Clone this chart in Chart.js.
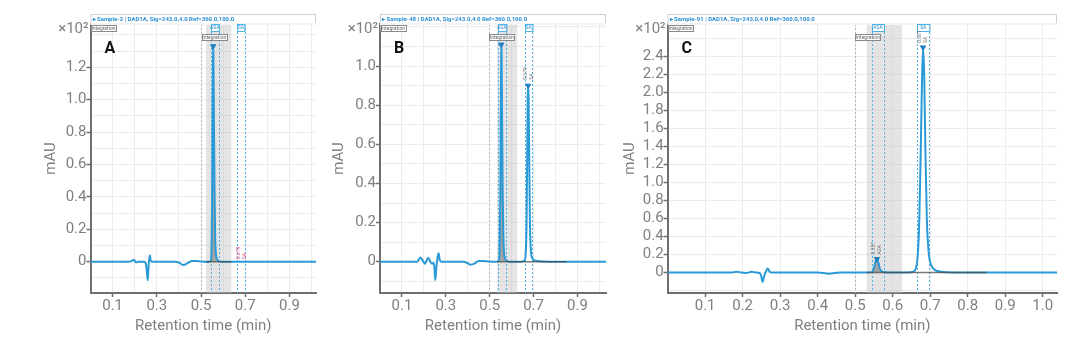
<!DOCTYPE html>
<html>
<head>
<meta charset="utf-8">
<script src="https://cdn.jsdelivr.net/npm/chart.js@4"></script>
<style>
    body { margin: 0; background: #fff; width: 1080px; height: 348px; overflow: hidden; position: relative; }
    canvas { position: absolute; top: 0; }
</style>
</head>
<body>
<canvas id="chart-a" width="295" height="348" style="left:30px"></canvas>
<canvas id="chart-b" width="285" height="348" style="left:330px"></canvas>
<canvas id="chart-c" width="450" height="348" style="left:620px"></canvas>
<script>
// ---- data ----
const timesA = [0, 0.10, 0.17, 0.185, 0.196, 0.205, 0.215, 0.24, 0.25, 0.255, 0.259, 0.263, 0.268, 0.273, 0.28, 0.32, 0.38, 0.40, 0.42, 0.44, 0.46, 0.48, 0.52, 0.535, 0.543, 0.547, 0.550, 0.552, 0.554, 0.555, 0.556, 0.558, 0.561, 0.564, 0.568, 0.575, 0.59, 0.65, 0.75, 0.85, 1.02];
const signalA = [0, 0, 0, 0.004, 0.012, -0.004, 0, 0, -0.01, -0.06, -0.115, -0.02, 0.04, 0.005, 0, 0, 0, -0.005, -0.02, -0.008, 0.004, 0.004, 0, 0, 0.005, 0.05, 0.35, 0.8, 1.2, 1.33, 1.28, 0.95, 0.45, 0.15, 0.04, 0.01, 0, 0, 0, 0, 0];

const timesB = [0, 0.10, 0.17, 0.184, 0.195, 0.206, 0.214, 0.221, 0.229, 0.237, 0.244, 0.248, 0.252, 0.257, 0.262, 0.267, 0.272, 0.28, 0.33, 0.38, 0.40, 0.412, 0.43, 0.45, 0.47, 0.50, 0.53, 0.541, 0.545, 0.548, 0.550, 0.552, 0.553, 0.554, 0.556, 0.559, 0.562, 0.566, 0.573, 0.59, 0.64, 0.658, 0.664, 0.668, 0.671, 0.673, 0.675, 0.677, 0.680, 0.683, 0.687, 0.693, 0.71, 0.80, 0.90, 1.03];
const signalB = [0, 0, 0, 0.022, 0.005, -0.01, 0.01, 0.02, 0, -0.01, -0.005, -0.03, -0.094, -0.03, 0.02, 0.043, 0.01, 0, 0, 0, -0.008, -0.015, -0.01, 0.004, 0.004, 0, 0, 0.005, 0.05, 0.3, 0.7, 1.0, 1.11, 1.08, 0.8, 0.38, 0.14, 0.04, 0.01, 0, 0, 0.005, 0.04, 0.2, 0.55, 0.82, 0.90, 0.85, 0.55, 0.22, 0.07, 0.02, 0.005, 0, 0, 0];

const timesC = [0, 0.10, 0.17, 0.184, 0.195, 0.21, 0.224, 0.235, 0.245, 0.249, 0.253, 0.258, 0.263, 0.267, 0.272, 0.28, 0.35, 0.40, 0.43, 0.46, 0.50, 0.53, 0.545, 0.55, 0.554, 0.558, 0.562, 0.566, 0.572, 0.59, 0.64, 0.655, 0.662, 0.667, 0.671, 0.675, 0.678, 0.681, 0.684, 0.687, 0.691, 0.696, 0.703, 0.712, 0.73, 0.80, 0.90, 1.04];
const signalC = [0, 0, 0, 0.01, 0, -0.005, 0.01, 0, -0.005, -0.03, -0.104, -0.03, 0.02, 0.045, 0.01, 0, 0, 0, -0.012, 0, 0, 0, 0.005, 0.05, 0.12, 0.14, 0.11, 0.04, 0.01, 0, 0, 0.01, 0.05, 0.2, 0.6, 1.4, 2.1, 2.5, 2.2, 1.4, 0.6, 0.22, 0.08, 0.03, 0.01, 0, 0, 0];

// integration windows (min)
const fillRangeA = [0.543, 0.575];
const fillRangeB = [0.541, 0.573];
const fillRangeC = [0.545, 0.572];
const baselineA = [0.523, 0.637];
const baselineB = [0.534, 0.85];
const baselineC = [0.531, 0.85];
const bandA = [0.523, 0.637];
const bandB = [0.534, 0.625];
const bandC = [0.531, 0.625];
const grayMarksA = [0.50];
const grayMarksB = [0.495];
const grayMarksC = [0.50];
const blueMarksA = [0.544, 0.58, 0.664, 0.697];
const blueMarksB = [0.537, 0.575, 0.66, 0.694];
const blueMarksC = [0.545, 0.577, 0.665, 0.698];
const peakNames = ['ASA', 'SA'];

// apex markers
const apexTimesA = [0.555];
const apexHeightsA = [1.33];
const apexTimesB = [0.553, 0.675];
const apexHeightsB = [1.11, 0.90];
const apexTimesC = [0.558, 0.681];
const apexHeightsC = [0.15, 2.5];

// axis ticks
const xTicks = [0, 0.1, 0.2, 0.3, 0.4, 0.5, 0.6, 0.7, 0.8, 0.9, 1.0];
const xLabelsAB = [0.1, 0.3, 0.5, 0.7, 0.9];
const xLabelsC = [0.1, 0.2, 0.3, 0.4, 0.5, 0.6, 0.7, 0.8, 0.9, 1.0];
const yTicksA = [-0.1, 0, 0.1, 0.2, 0.3, 0.4, 0.5, 0.6, 0.7, 0.8, 0.9, 1.0, 1.1, 1.2, 1.3, 1.4];
const yLabelsA = [0, 0.2, 0.4, 0.6, 0.8, 1.0, 1.2];
const yTicksB = [-0.1, 0, 0.1, 0.2, 0.3, 0.4, 0.5, 0.6, 0.7, 0.8, 0.9, 1.0, 1.1, 1.2];
const yLabelsB = [0, 0.2, 0.4, 0.6, 0.8, 1.0];
const yTicksC = [-0.2, 0, 0.2, 0.4, 0.6, 0.8, 1.0, 1.2, 1.4, 1.6, 1.8, 2.0, 2.2, 2.4, 2.6];
const yLabelsC = [0, 0.2, 0.4, 0.6, 0.8, 1.0, 1.2, 1.4, 1.6, 1.8, 2.0, 2.2, 2.4];

const AXIS = '#6f6f6f';
const TEXT = '#808080';
const BLUE = '#2a9ad6';
const FONT = 'Roboto, "Open Sans", sans-serif';

Chart.defaults.font.family = FONT;

function has(list, v) {
    return list.some(t => Math.abs(t - v) < 1e-6);
}

function points(times, values, range) {
    const pts = times.map((t, i) => ({ x: t, y: values[i] }));
    if (!range) return pts;
    return pts.filter(p => p.x >= range[0] - 1e-9 && p.x <= range[1] + 1e-9);
}

function vline(ctx, px, top, bottom) {
    ctx.beginPath();
    ctx.moveTo(px, top);
    ctx.lineTo(px, bottom);
    ctx.stroke();
}

function decorPlugin(p) {
    return {
        id: 'decor',
        beforeDatasetsDraw(chart) {
            const { ctx, chartArea: a, scales: { x } } = chart;
            ctx.save();
            ctx.beginPath();
            ctx.rect(a.left, a.top, a.right - a.left, a.bottom - a.top);
            ctx.clip();
            const b0 = x.getPixelForValue(p.band[0]);
            const b1 = x.getPixelForValue(p.band[1]);
            ctx.fillStyle = 'rgba(195,195,195,0.45)';
            ctx.fillRect(b0, a.top, b1 - b0, a.bottom - a.top);
            ctx.setLineDash([2, 2]);
            ctx.lineWidth = 1;
            ctx.strokeStyle = '#b5b5b5';
            p.grayMarks.forEach(v => vline(ctx, Math.round(x.getPixelForValue(v)) + 0.5, a.top, a.bottom));
            ctx.strokeStyle = '#4cb2ea';
            p.blueMarks.forEach(v => vline(ctx, Math.round(x.getPixelForValue(v)) + 0.5, a.top, a.bottom));
            ctx.restore();
        },
        afterDraw(chart) {
            const { ctx, chartArea: a, scales: { x, y } } = chart;
            ctx.save();
            // header strip
            ctx.strokeStyle = '#d0d0d0';
            ctx.lineWidth = 1;
            ctx.strokeRect(a.left + 0.5, a.top - 9.5, a.right - a.left - 1, 9);
            ctx.fillStyle = '#f4f4f4';
            ctx.fillRect(a.left, a.top - 1, a.right - a.left, 2);
            ctx.fillStyle = '#2b8fd2';
            ctx.font = 'bold 6px ' + FONT;
            ctx.textBaseline = 'middle';
            ctx.textAlign = 'left';
            ctx.fillText('\u25B8 ' + p.sample + ' | DAD1A, Sig=243.0,4.0 Ref=360.0,100.0', a.left + 2, a.top - 5);

            // integration labels
            ctx.font = '5px ' + FONT;
            ctx.textAlign = 'center';
            const tagBox = (cx, top, w, h, text, stroke, color) => {
                ctx.fillStyle = '#fff';
                ctx.fillRect(cx - w / 2, top, w, h);
                ctx.strokeStyle = stroke;
                ctx.strokeRect(Math.round(cx - w / 2) + 0.5, top + 0.5, w, h);
                ctx.fillStyle = color;
                ctx.fillText(text, cx, top + h / 2 + 0.5);
            };
            tagBox(a.left + 13, a.top + 1, 25, 6, 'Integration', '#8a8a8a', '#666');
            tagBox(x.getPixelForValue(p.integrationAt), a.top + 10, 25, 6, 'Integration', '#8a8a8a', '#666');
            for (let i = 0; i < p.blueMarks.length; i += 2) {
                const l = x.getPixelForValue(p.blueMarks[i]);
                const r = x.getPixelForValue(p.blueMarks[i + 1]);
                tagBox((l + r) / 2, a.top, r - l, 7, peakNames[i / 2], '#4cb2ea', '#2b8fd2');
            }

            // rotated peak notes
            p.notes.forEach(n => {
                ctx.save();
                ctx.translate(x.getPixelForValue(n.x), y.getPixelForValue(n.y));
                ctx.rotate(-Math.PI / 2);
                ctx.fillStyle = n.color;
                ctx.font = '5px ' + FONT;
                ctx.textAlign = 'left';
                n.lines.forEach((line, i) => ctx.fillText(line, 0, (i - (n.lines.length - 1) / 2) * 6));
                ctx.restore();
            });

            // panel letter and exponent
            ctx.fillStyle = '#111';
            ctx.font = 'bold 16px ' + FONT;
            ctx.textAlign = 'left';
            ctx.textBaseline = 'alphabetic';
            ctx.fillText(p.letter, a.left + 14, a.top + 29);
            ctx.fillStyle = TEXT;
            ctx.font = '15px ' + FONT;
            ctx.textAlign = 'right';
            ctx.fillText('\u00D710\u00B2', a.left - 2, a.top + 9);
            ctx.restore();
        }
    };
}

function drawPanel(canvasId, p) {
    const datasets = [
        {
            data: points(p.times, p.signal, p.fillRange),
            borderWidth: 0,
            backgroundColor: 'rgba(135,135,135,0.7)',
            fill: 'origin',
            pointRadius: 0,
            cubicInterpolationMode: 'monotone',
            order: 3
        },
        {
            data: points(p.times, p.signal),
            borderColor: BLUE,
            borderWidth: 2,
            pointRadius: 0,
            fill: false,
            cubicInterpolationMode: 'monotone',
            order: 2
        },
        {
            data: p.baseline.map(t => ({ x: t, y: 0 })),
            borderColor: 'rgba(70,70,70,0.7)',
            borderWidth: 1.5,
            pointRadius: 0,
            fill: false,
            order: 1
        },
        {
            data: points(p.apexTimes, p.apexHeights),
            showLine: false,
            pointStyle: 'triangle',
            rotation: 180,
            pointRadius: 3,
            pointBackgroundColor: '#1f7fc4',
            pointBorderColor: '#1f7fc4',
            order: 0
        }
    ];

    new Chart(document.getElementById(canvasId).getContext('2d'), {
        type: 'line',
        data: { datasets },
        options: {
            responsive: false,
            animation: false,
            devicePixelRatio: 1,
            layout: { padding: { top: 24, right: p.padRight, bottom: 0, left: 0 } },
            plugins: { legend: { display: false }, tooltip: { enabled: false } },
            scales: {
                x: {
                    type: 'linear',
                    min: 0,
                    max: p.xMax,
                    afterBuildTicks: scale => { scale.ticks = xTicks.map(v => ({ value: v })); },
                    afterFit: scale => { scale.height = 55; },
                    border: { color: AXIS, width: 2 },
                    grid: {
                        color: '#ececec',
                        tickLength: 4,
                        tickWidth: 1.5,
                        tickColor: c => has(p.xLabels, c.tick.value) ? AXIS : 'rgba(0,0,0,0)'
                    },
                    ticks: {
                        autoSkip: false,
                        maxRotation: 0,
                        padding: 0,
                        color: TEXT,
                        font: { size: 15 },
                        callback: v => has(p.xLabels, v) ? v.toFixed(1) : ''
                    },
                    title: {
                        display: true,
                        text: 'Retention time (min)',
                        color: TEXT,
                        font: { size: 15 },
                        padding: { top: 0, bottom: 12.5 }
                    }
                },
                y: {
                    type: 'linear',
                    min: p.yMin,
                    max: p.yMax,
                    afterBuildTicks: scale => { scale.ticks = p.yTicks.map(v => ({ value: v })); },
                    afterFit: scale => { scale.width = p.axisWidth; },
                    border: { color: AXIS, width: 2 },
                    grid: {
                        color: '#ececec',
                        tickLength: 4,
                        tickWidth: 1.5,
                        tickColor: c => has(p.yLabels, c.tick.value) ? AXIS : 'rgba(0,0,0,0)'
                    },
                    ticks: {
                        autoSkip: false,
                        padding: 0,
                        color: TEXT,
                        font: { size: 15 },
                        callback: v => has(p.yLabels, v) ? (Math.abs(v) < 1e-9 ? '0' : v.toFixed(1)) : ''
                    },
                    title: {
                        display: true,
                        text: 'mAU',
                        color: TEXT,
                        font: { size: 15 },
                        padding: { top: p.titlePad, bottom: 0 }
                    }
                }
            }
        },
        plugins: [decorPlugin(p)]
    });
}

drawPanel('chart-a', {
    letter: 'A', sample: 'Sample-2',
    times: timesA, signal: signalA, fillRange: fillRangeA, baseline: baselineA,
    band: bandA, grayMarks: grayMarksA, blueMarks: blueMarksA, integrationAt: 0.56,
    apexTimes: apexTimesA, apexHeights: apexHeightsA,
    notes: [{ x: 0.682, y: 0.015, lines: ['0.679', 'SA'], color: '#e0507a' }],
    xMax: 1.02, xLabels: xLabelsAB, yMin: -0.193, yMax: 1.467, yTicks: yTicksA, yLabels: yLabelsA,
    axisWidth: 60.5, titlePad: 12, padRight: 9
});

drawPanel('chart-b', {
    letter: 'B', sample: 'Sample-48',
    times: timesB, signal: signalB, fillRange: fillRangeB, baseline: baselineB,
    band: bandB, grayMarks: grayMarksB, blueMarks: blueMarksB, integrationAt: 0.555,
    apexTimes: apexTimesB, apexHeights: apexHeightsB,
    notes: [{ x: 0.677, y: 0.93, lines: ['0.679', 'SA'], color: '#777' }],
    xMax: 1.03, xLabels: xLabelsAB, yMin: -0.16, yMax: 1.215, yTicks: yTicksB, yLabels: yLabelsB,
    axisWidth: 50, titlePad: 0, padRight: 9
});

drawPanel('chart-c', {
    letter: 'C', sample: 'Sample-91',
    times: timesC, signal: signalC, fillRange: fillRangeC, baseline: baselineC,
    band: bandC, grayMarks: grayMarksC, blueMarks: blueMarksC, integrationAt: 0.534,
    apexTimes: apexTimesC, apexHeights: apexHeightsC,
    notes: [
        { x: 0.558, y: 0.2, lines: ['0.557', 'ASA'], color: '#777' },
        { x: 0.681, y: 2.55, lines: ['0.681', 'SA'], color: '#777' }
    ],
    xMax: 1.038, xLabels: xLabelsC, yMin: -0.227, yMax: 2.76, yTicks: yTicksC, yLabels: yLabelsC,
    axisWidth: 47.6, titlePad: 1, padRight: 13
});
</script>
</body>
</html>
